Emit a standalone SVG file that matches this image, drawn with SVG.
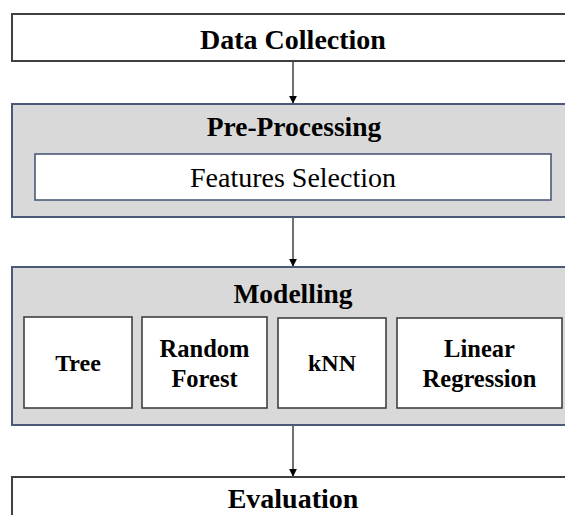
<svg xmlns="http://www.w3.org/2000/svg" width="565" height="515" viewBox="0 0 565 515">
<defs>
<style>
.w{fill:#ffffff;stroke:#404040;stroke-width:2}
.g{fill:#d9d9d9;stroke:#4a5a78;stroke-width:2}
.i{fill:#ffffff;stroke:#404040;stroke-width:1.6}
.f{fill:#ffffff;stroke:#4a5a78;stroke-width:1.6}
text{font-family:"Liberation Serif","Times New Roman",Times,serif;fill:#000;text-anchor:middle}
.b{font-weight:700}
.c{stroke:#404040;stroke-width:1.5;fill:none}
</style>
<marker id="ah" viewBox="0 0 10 10" refX="9" refY="5" markerWidth="8" markerHeight="8" markerUnits="userSpaceOnUse" orient="auto">
<path d="M0,0 L10,5 L0,10 z" fill="#000"/>
</marker>
</defs>
<rect width="565" height="515" fill="#ffffff"/>
<g id="connectors">
<line class="c" x1="293" y1="61" x2="293" y2="103" marker-end="url(#ah)"/>
<line class="c" x1="293" y1="217" x2="293" y2="266" marker-end="url(#ah)"/>
<line class="c" x1="293" y1="425" x2="293" y2="476" marker-end="url(#ah)"/>
</g>
<g id="data-collection">
<rect class="w" x="12" y="14" width="560" height="47"/>
<text class="b" x="293" y="49" font-size="28">Data Collection</text>
</g>
<g id="pre-processing">
<rect class="g" x="12" y="104" width="560" height="113"/>
<text class="b" x="294" y="136" font-size="27.5">Pre-Processing</text>
</g>
<g id="features-selection">
<rect class="f" x="35" y="154" width="516" height="46"/>
<text x="293" y="187" font-size="28">Features Selection</text>
</g>
<g id="modelling">
<rect class="g" x="12" y="267" width="560" height="158"/>
<text class="b" x="293" y="303" font-size="27.5">Modelling</text>
</g>
<g id="tree">
<rect class="i" x="24" y="317" width="108" height="91"/>
<text class="b" x="78" y="371" font-size="24">Tree</text>
</g>
<g id="random-forest">
<rect class="i" x="142" y="317" width="125" height="91"/>
<text class="b" x="204.5" y="357" font-size="24.5">Random</text>
<text class="b" x="204.5" y="387" font-size="24.5">Forest</text>
</g>
<g id="knn">
<rect class="i" x="278" y="318" width="108" height="90"/>
<text class="b" x="332" y="371" font-size="24">kNN</text>
</g>
<g id="linear-regression">
<rect class="i" x="397" y="318" width="165" height="90"/>
<text class="b" x="479.5" y="357" font-size="24.5">Linear</text>
<text class="b" x="479.5" y="387" font-size="24.5">Regression</text>
</g>
<g id="evaluation">
<rect class="w" x="12" y="477" width="560" height="50"/>
<text class="b" x="293" y="508" font-size="28">Evaluation</text>
</g>
</svg>
